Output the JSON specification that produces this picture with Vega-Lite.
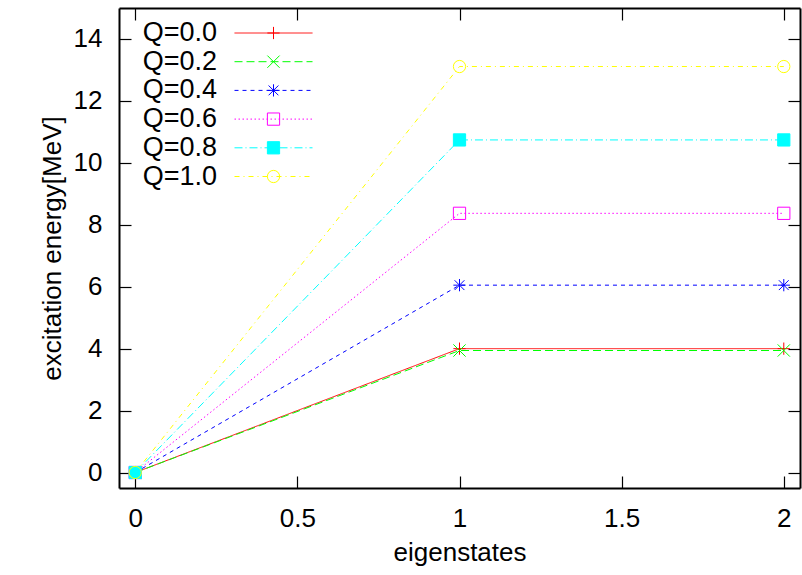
{
  "$schema": "https://vega.github.io/schema/vega-lite/v6.json",
  "autosize": "none",
  "width": 681,
  "height": 480,
  "padding": {"left": 119, "top": 8, "right": 2, "bottom": 87},
  "background": "white",
  "config": {
    "view": {"stroke": null},
    "font": "Liberation Sans",
    "axis": {
      "labelFont": "Liberation Sans",
      "titleFont": "Liberation Sans",
      "labelFontSize": 26,
      "titleFontSize": 26,
      "titleFontWeight": "normal",
      "labelColor": "black",
      "titleColor": "black",
      "domainColor": "black",
      "domainWidth": 2,
      "tickColor": "black",
      "tickWidth": 1.2,
      "tickSize": -12,
      "grid": false
    },
    "legend": {"labelFont": "Liberation Sans", "labelFontSize": 27, "labelColor": "black"}
  },
  "data": {
    "values": [
      {"series": "Q=0.0", "q": 0.0, "state": 0, "energy": 0},
      {"series": "Q=0.0", "q": 0.0, "state": 1, "energy": 4.0},
      {"series": "Q=0.0", "q": 0.0, "state": 2, "energy": 4.0},
      {"series": "Q=0.2", "q": 0.2, "state": 0, "energy": 0},
      {"series": "Q=0.2", "q": 0.2, "state": 1, "energy": 3.94},
      {"series": "Q=0.2", "q": 0.2, "state": 2, "energy": 3.94},
      {"series": "Q=0.4", "q": 0.4, "state": 0, "energy": 0},
      {"series": "Q=0.4", "q": 0.4, "state": 1, "energy": 6.05},
      {"series": "Q=0.4", "q": 0.4, "state": 2, "energy": 6.05},
      {"series": "Q=0.6", "q": 0.6, "state": 0, "energy": 0},
      {"series": "Q=0.6", "q": 0.6, "state": 1, "energy": 8.37},
      {"series": "Q=0.6", "q": 0.6, "state": 2, "energy": 8.37},
      {"series": "Q=0.8", "q": 0.8, "state": 0, "energy": 0},
      {"series": "Q=0.8", "q": 0.8, "state": 1, "energy": 10.74},
      {"series": "Q=0.8", "q": 0.8, "state": 2, "energy": 10.74},
      {"series": "Q=1.0", "q": 1.0, "state": 0, "energy": 0},
      {"series": "Q=1.0", "q": 1.0, "state": 1, "energy": 13.11},
      {"series": "Q=1.0", "q": 1.0, "state": 2, "energy": 13.11}
    ]
  },
  "resolve": {"axis": {"x": "independent", "y": "independent"}},
  "layer": [
    {
      "mark": {"type": "line", "strokeWidth": 1, "clip": true},
      "encoding": {
        "x": {
          "field": "state", "type": "quantitative",
          "scale": {"domain": [-0.05, 2.05], "nice": false, "zero": false},
          "axis": {"orient": "bottom", "values": [0, 0.5, 1, 1.5, 2], "format": "~g", "labelPadding": 29, "title": "eigenstates", "titlePadding": 8}
        },
        "y": {
          "field": "energy", "type": "quantitative",
          "scale": {"domain": [-0.5, 15], "nice": false, "zero": false},
          "axis": {"orient": "left", "values": [0, 2, 4, 6, 8, 10, 12, 14], "format": "d", "labelPadding": 29, "title": "excitation energy[MeV]", "titlePadding": 8}
        },
        "color": {
          "field": "q", "type": "nominal",
          "scale": {"domain": [0, 0.2, 0.4, 0.6, 0.8, 1], "range": ["#ff0000", "#00ff00", "#0000ff", "#ff00ff", "#00ffff", "#ffff00"]},
          "legend": {"orient": "none", "legendX": 141, "legendY": 11.5, "title": null, "symbolType": "M-10,0L10,0", "symbolSize": 60.84, "symbolStrokeWidth": 1, "labelOpacity": 0, "rowPadding": 0.7, "padding": 0}
        },
        "strokeDash": {
          "field": "q", "type": "nominal",
          "scale": {"domain": [0, 0.2, 0.4, 0.6, 0.8, 1], "range": [[1, 0], [8, 4], [4, 4], [1.5, 2.5], [8, 3, 1, 3], [5, 4, 1, 4]]},
          "legend": {"orient": "none", "legendX": 141, "legendY": 11.5, "title": null, "symbolType": "M-10,0L10,0", "symbolSize": 60.84, "symbolStrokeWidth": 1, "labelOpacity": 0, "rowPadding": 0.7, "padding": 0}
        }
      }
    },
    {
      "mark": {"type": "point", "strokeWidth": 1, "opacity": 1, "size": 150},
      "encoding": {
        "x": {
          "field": "state", "type": "quantitative",
          "scale": {"domain": [-0.05, 2.05], "nice": false, "zero": false},
          "axis": {"orient": "top", "values": [0, 0.5, 1, 1.5, 2], "labels": false, "title": null}
        },
        "y": {
          "field": "energy", "type": "quantitative",
          "scale": {"domain": [-0.5, 15], "nice": false, "zero": false},
          "axis": {"orient": "right", "values": [0, 2, 4, 6, 8, 10, 12, 14], "labels": false, "title": null}
        },
        "shape": {
          "field": "series", "type": "nominal",
          "scale": {"domain": ["Q=0.0", "Q=0.2", "Q=0.4", "Q=0.6", "Q=0.8", "Q=1.0"], "range": ["M-1,0L1,0M0,-1L0,1", "M-1,-1L1,1M-1,1L1,-1", "M-1,0L1,0M0,-1L0,1M-0.8,-0.8L0.8,0.8M-0.8,0.8L0.8,-0.8", "square", "square", "circle"]},
          "legend": {"orient": "none", "legendX": 141, "legendY": 11.5, "title": null, "symbolSize": 150, "symbolStrokeWidth": 1, "labelAlign": "right", "labelOffset": -70, "rowPadding": 0.7, "padding": 0}
        },
        "stroke": {
          "field": "series", "type": "nominal",
          "scale": {"domain": ["Q=0.0", "Q=0.2", "Q=0.4", "Q=0.6", "Q=0.8", "Q=1.0"], "range": ["#ff0000", "#00ff00", "#0000ff", "#ff00ff", "#00ffff", "#ffff00"]},
          "legend": {"orient": "none", "legendX": 141, "legendY": 11.5, "title": null, "symbolSize": 150, "symbolStrokeWidth": 1, "labelAlign": "right", "labelOffset": -70, "rowPadding": 0.7, "padding": 0}
        },
        "fill": {
          "field": "series", "type": "nominal",
          "scale": {"domain": ["Q=0.0", "Q=0.2", "Q=0.4", "Q=0.6", "Q=0.8", "Q=1.0"], "range": ["transparent", "transparent", "transparent", "transparent", "#00ffff", "transparent"]},
          "legend": {"orient": "none", "legendX": 141, "legendY": 11.5, "title": null, "symbolSize": 150, "symbolStrokeWidth": 1, "labelAlign": "right", "labelOffset": -70, "rowPadding": 0.7, "padding": 0}
        }
      }
    }
  ]
}
